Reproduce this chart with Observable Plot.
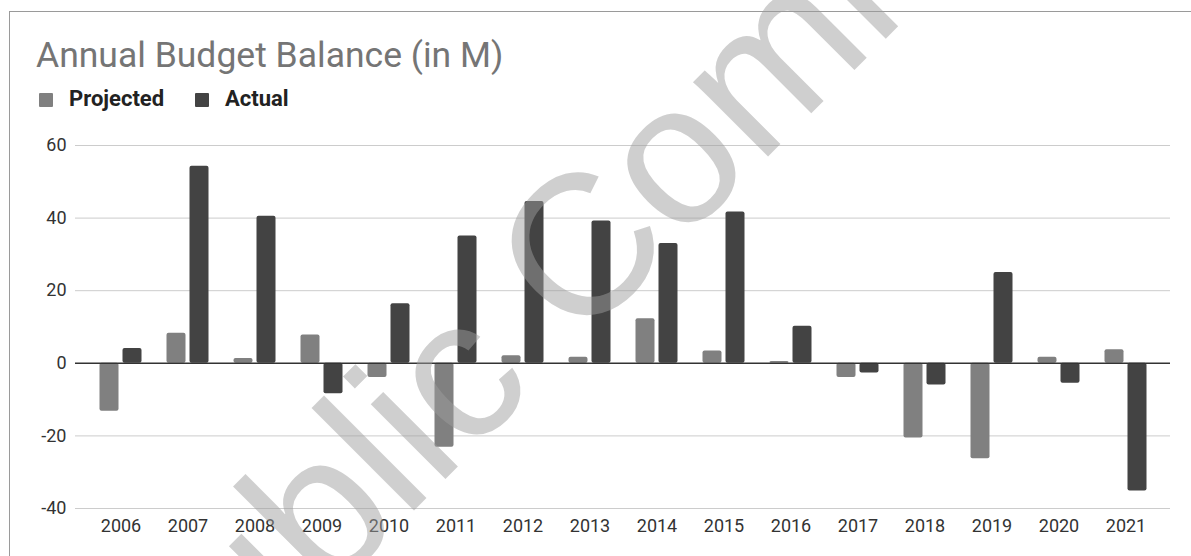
<!DOCTYPE html>
<html>
<head>
<meta charset="utf-8">
<script src="https://cdn.jsdelivr.net/npm/d3@7"></script>
<script src="https://cdn.jsdelivr.net/npm/@observablehq/plot@0.6"></script>
<style>
  html, body { margin: 0; padding: 0; background: #fff; }
  #page { position: relative; width: 1191px; height: 556px; overflow: hidden; font-family: Roboto, sans-serif; }
  #frame { position: absolute; left: 9px; top: 11px; width: 1400px; height: 800px; border-left: 1.5px solid #9a9a9a; border-top: 1.5px solid #9a9a9a; }
  #title { position: absolute; left: 36px; top: 38px; font-size: 35.5px; line-height: 35.5px; color: #757575; white-space: nowrap; }
  .leg { position: absolute; top: 88px; font-size: 22px; line-height: 22px; font-weight: bold; color: #222; white-space: nowrap; }
  .sw { position: absolute; top: 93px; width: 14px; height: 14px; border-radius: 1px; }
  #chart { position: absolute; left: 0; top: 120px; }
  #wm { position: absolute; left: 0; top: 0; pointer-events: none; }
</style>
</head>
<body>
<div id="page">
  <div id="frame"></div>
  <div id="title"></div>
  <div id="legend"></div>
  <div id="chart"></div>
  <svg id="wm" width="1191" height="556"></svg>
</div>
<script>
const title = "Annual Budget Balance (in M)";
const years = ["2006","2007","2008","2009","2010","2011","2012","2013","2014","2015","2016","2017","2018","2019","2020","2021"];
const projected = [-13.2, 8.3, 1.3, 7.8, -3.9, -23.1, 2.1, 1.7, 12.3, 3.4, 0.5, -3.9, -20.6, -26.3, 1.7, 3.7];
const actual = [4.1, 54.3, 40.5, -8.4, 16.4, 35.1, 44.6, 39.2, 33.0, 41.7, 10.2, -2.7, -6.0, 25.0, -5.5, -35.2];
const seriesNames = ["Projected", "Actual"];
const seriesColors = ["#808080", "#434343"];
const yTicks = [-40, -20, 0, 20, 40, 60];
const watermark = "Public Comment";

document.getElementById("title").textContent = title;

// legend
const legend = document.getElementById("legend");
const legendPos = [{sw: 39, tx: 69}, {sw: 195, tx: 225}];
seriesNames.forEach((name, i) => {
  const sw = document.createElement("div");
  sw.className = "sw";
  sw.style.left = legendPos[i].sw + "px";
  sw.style.background = seriesColors[i];
  legend.appendChild(sw);
  const t = document.createElement("div");
  t.className = "leg";
  t.style.left = legendPos[i].tx + "px";
  t.textContent = name;
  legend.appendChild(t);
});

const data = years.map((year, i) => ({year, projected: projected[i], actual: actual[i]}));

const chart = Plot.plot({
  width: 1191,
  height: 436,
  marginLeft: 75,
  marginRight: 21,
  marginTop: 25,
  marginBottom: 48,
  style: {fontFamily: "Roboto, sans-serif", fontSize: "18px", color: "#333", background: "transparent"},
  x: {type: "band", domain: years, padding: 0, insetLeft: 11.5, insetRight: 11.5, label: null, tickSize: 0, tickPadding: 11},
  y: {domain: [-40, 60], ticks: yTicks, tickFormat: d => String(d), label: null, tickSize: 0, tickPadding: 9},
  marks: [
    Plot.ruleY(yTicks.filter(d => d !== 0), {stroke: "#cccccc", strokeWidth: 1}),
    Plot.barY(data, {x: "year", y: "projected", fill: seriesColors[0], insetLeft: 12.5, insetRight: 35.5, rx: 2}),
    Plot.barY(data, {x: "year", y: "actual", fill: seriesColors[1], insetLeft: 35.5, insetRight: 12.5, rx: 2}),
    Plot.ruleY([0], {stroke: "#333", strokeWidth: 1.5})
  ]
});
document.getElementById("chart").appendChild(chart);

// watermark overlay (semi-transparent, rotated)
const fs = 200;
const wm = d3.select("#wm");
const t = wm.append("text")
  .attr("font-family", "'Liberation Sans', Arial, sans-serif")
  .attr("font-size", fs)
  .attr("fill", "rgb(158,158,158)")
  .attr("fill-opacity", 0.49)
  .text(watermark);
let cx = 0;
try {
  const ext = t.node().getExtentOfChar(5); // the lowercase "c"
  cx = ext.x + ext.width / 2;
} catch (e) { cx = 2.03 * fs; }
const cy = -0.26 * fs;
t.attr("transform", `translate(466,385) rotate(-45) translate(${-cx},${-cy})`);
</script>
</body>
</html>
